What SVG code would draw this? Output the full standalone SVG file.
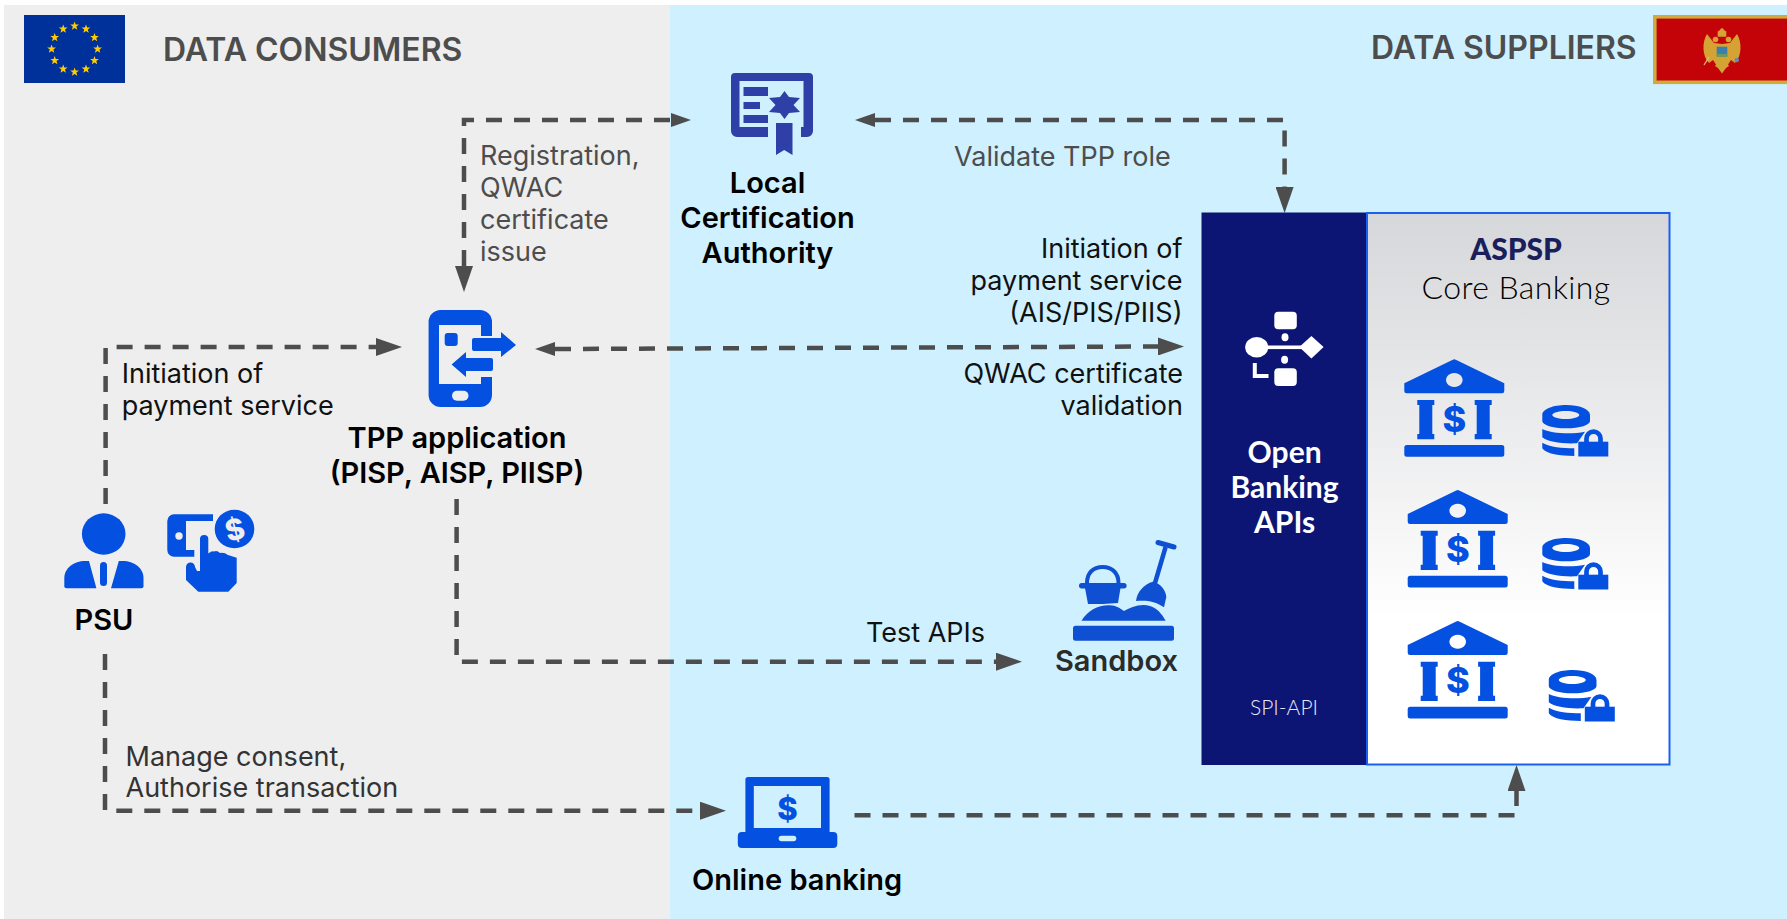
<svg xmlns="http://www.w3.org/2000/svg" width="1787" height="919" viewBox="0 0 1787 919">
<style>
text{font-family:"Inter","Noto Sans","Liberation Sans",sans-serif}
.title{font-size:32px;font-weight:600;fill:#4d4d4d}
.lab{font-size:27px;font-weight:400;fill:#111}
.gr{fill:#4d4d4d}
.node{font-size:29px;font-weight:600;fill:#000}
.mid{text-anchor:middle}
.end{text-anchor:end}
.conn{fill:none;stroke:#4d4d4d;stroke-width:4.5;stroke-dasharray:16 12}
.ic{fill:#0450e0}
.usd{font-weight:800;fill:#0450e0;text-anchor:middle}
.gothic{font-family:"Lato","Open Sans",sans-serif}
</style>
<defs>
<marker id="lg" markerUnits="userSpaceOnUse" markerWidth="26" markerHeight="18" viewBox="0 0 26 18" refX="0" refY="9" orient="auto-start-reverse"><path d="M0 0L26 9L0 18Z" fill="#4d4d4d"/></marker>
<marker id="sm" markerUnits="userSpaceOnUse" markerWidth="20" markerHeight="14" viewBox="0 0 20 14" refX="0" refY="7" orient="auto-start-reverse"><path d="M0 0L20 7L0 14Z" fill="#4d4d4d"/></marker>
<linearGradient id="core" x1="0" y1="0" x2="0" y2="1"><stop offset="0" stop-color="#d6d7da"/><stop offset=".74" stop-color="#fff"/></linearGradient>
<polygon id="st" points="0,-4.6 1.1,-1.5 4.4,-1.4 1.8,.6 2.7,3.7 0,1.9 -2.7,3.7 -1.8,.6 -4.4,-1.4 -1.1,-1.5" fill="#ffcc00"/>
<g id="bank" class="ic">
<path d="M1452.800 359.800Q1454.300 358.900 1455.800 359.800L1504.300 383.300V391a2.300 2.300 0 0 1-2.300 2.300H1406.600a2.300 2.300 0 0 1-2.300-2.300V383.300ZM1454.300 373a8.300 7 0 1 0 .01 0Z" fill-rule="evenodd"/>
<path d="M1417.300 400H1434.300V405H1432.300V434H1434.300V439.300H1417.300V434H1419.300V405H1417.300Z"/>
<path d="M1474.700 400H1491.700V405H1489.700V434H1491.700V439.300H1474.700V434H1476.700V405H1474.700Z"/>
<rect x="1404.300" y="445" width="100" height="11.700" rx="2.500"/>
</g>
<g id="dblock" class="ic">
<path d="M1566.200 405C1579.200 405 1590 409 1590 415V421C1590 425 1580 428.300 1566.200 428.300C1552.400 428.300 1542.300 425 1542.300 421V415C1542.300 409 1553.200 405 1566.200 405ZM1565.800 411C1558.300 411 1552.300 412.800 1552.300 415C1552.300 417.200 1558.300 419 1565.800 419C1573.300 419 1579.300 417.200 1579.300 415C1579.300 412.800 1573.300 411 1565.800 411Z" fill-rule="evenodd"/>
<path d="M1542.300 429C1550 433 1570 435 1585 431.700L1577 443.300C1562 444 1548 442 1542.300 437.300Z"/>
<path d="M1542.300 442.700C1550 447 1562 448.300 1574.300 448.300V456C1560 456 1546 454 1542.300 448.300Z"/>
<rect x="1578.300" y="441.700" width="30" height="14.800"/>
<path d="M1586.500 442V438.600A7 7 0 0 1 1600.500 438.600V442" fill="none" stroke="#0450e0" stroke-width="4.700"/>
</g>
</defs>
<rect x="0" y="0" width="1787" height="919" fill="#fff"/>
<rect id="zone-consumers" x="4" y="5" width="666" height="914" fill="#eeeeee"/>
<rect id="zone-suppliers" x="670" y="5" width="1117" height="914" fill="#cef0ff"/>

<g id="connectors">
<path class="conn" d="M464 266V120H671" marker-start="url(#lg)" marker-end="url(#sm)"/>
<path class="conn" d="M875 120H1284.600V187" marker-start="url(#sm)" marker-end="url(#lg)"/>
<path class="conn" d="M555 349L1158 346.500" marker-start="url(#sm)" marker-end="url(#lg)"/>
<path class="conn" d="M105.600 504V347H376" marker-end="url(#lg)"/>
<path class="conn" d="M456.600 499V661.700H996" marker-end="url(#lg)"/>
<path class="conn" d="M105 654V810.700H700" marker-end="url(#lg)"/>
<path class="conn" d="M854.500 815.300H1516.500"/>
<path d="M1516.500 806V791" fill="none" stroke="#4d4d4d" stroke-width="4.500" marker-end="url(#lg)"/>
</g>

<g id="header-consumers">
<rect x="24" y="15" width="101" height="68" fill="#00309a"/>
<g id="eu-stars">
<use href="#st" x="74.600" y="26"/><use href="#st" x="86" y="29"/><use href="#st" x="94.500" y="37.500"/><use href="#st" x="97.600" y="49"/><use href="#st" x="94.500" y="60.500"/><use href="#st" x="86" y="69"/><use href="#st" x="74.600" y="72"/><use href="#st" x="63.200" y="69"/><use href="#st" x="54.700" y="60.500"/><use href="#st" x="51.600" y="49"/><use href="#st" x="54.700" y="37.500"/><use href="#st" x="63.200" y="29"/>
</g>
<text class="title" x="163" y="61">DATA CONSUMERS</text>
</g>

<g id="header-suppliers">
<text class="title" x="1371" y="59">DATA SUPPLIERS</text>
<rect x="1654.800" y="16.800" width="134" height="65.500" fill="#c40308" stroke="#d1a93d" stroke-width="3.600"/>
<g id="me-eagle" fill="#d4a334">
<path id="wing-l" d="M1714 43L1707 34C1702 42 1702 56 1709 63L1713 60L1717 66L1722 58V44Z"/>
<path id="wing-r" d="M1730 43L1737 34C1742 42 1742 56 1735 63L1731 60L1727 66L1722 58V44Z"/>
<path d="M1722 55L1715 66L1718 68L1722 73.500L1726 68L1729 66Z"/>
<circle cx="1715.500" cy="39.500" r="2.800"/><circle cx="1728.500" cy="39.500" r="2.800"/>
<path d="M1717.700 36.800L1717.700 31C1719 32 1720 29 1722 28C1724 29 1725 32 1726.300 31V36.800Z"/>
<rect x="1716.700" y="46.700" width="10.600" height="9.500" fill="#3b7fae"/>
<rect x="1716.700" y="54" width="10.600" height="3" fill="#6f9a58"/>
<path d="M1709 57L1704 65" fill="none" stroke="#e3c879" stroke-width="1.200"/>
<circle cx="1736.700" cy="60" r="2.300" fill="#5f8cb0"/>
</g>
</g>

<g id="node-ca">
<path d="M735 73H809a4 4 0 0 1 4 4V131a6 6 0 0 1-6 6H801V127H803.500V81H739.500V127H768V137H737a6 6 0 0 1-6-6V77a4 4 0 0 1 4-4Z" fill="#2f3fa8"/>
<path d="M743.500 87H768V96H743.500ZM743.500 102H760V109H743.500ZM743.500 115H768V123H743.500Z" fill="#2f3fa8"/>
<path d="M784.500 91L789 97L800 98L793.500 105L800 112L789 113L784.500 119L780 113L769 112L775.500 105L769 98L780 97Z" fill="#2f3fa8"/>
<path d="M776 123H792.500V155L784.200 150L776 155Z" fill="#2f3fa8"/>
<text class="node mid"><tspan x="767.500" y="193">Local</tspan><tspan x="767.500" y="228">Certification</tspan><tspan x="767.500" y="263">Authority</tspan></text>
</g>

<g id="node-tpp">
<rect x="428.600" y="310" width="63.400" height="97" rx="12" class="ic"/>
<rect x="439" y="325" width="42" height="59" fill="#eee"/>
<rect x="481" y="336" width="13" height="41" fill="#eee"/>
<rect x="444.700" y="333" width="13" height="13" rx="3" class="ic"/>
<rect x="452" y="390.700" width="16.500" height="10" rx="5" fill="#eee"/>
<path d="M474 338H501V332L516 345L501 357V351H474a2 2 0 0 1-2-2V340a2 2 0 0 1 2-2Z" class="ic"/>
<path d="M491 358H466V352L451.600 364.500L466 377V371H491a2 2 0 0 0 2-2V360a2 2 0 0 0-2-2Z" class="ic"/>
<text class="node mid"><tspan x="457" y="448">TPP application</tspan><tspan x="457" y="483">(PISP, AISP, PIISP)</tspan></text>
</g>

<g id="node-psu">
<ellipse cx="103.700" cy="534" rx="21.800" ry="20.700" class="ic"/>
<path d="M85 561H89L96.400 588.300H66.300a2 2 0 0 1-2-2V578C64.300 568 74 561 85 561Z" class="ic"/>
<path d="M122.800 561H118.800L111 588.300H141.500a2 2 0 0 0 2-2V578C143.500 568 134 561 122.800 561Z" class="ic"/>
<rect x="100" y="562" width="7" height="24" rx="3.500" class="ic"/>
<text class="node mid" x="104" y="630">PSU</text>
</g>

<g id="node-pay">
<path d="M174 514.300H213V521H186V550H194.300V556.700H174a6.700 6.700 0 0 1-6.700-6.700V521a6.700 6.700 0 0 1 6.700-6.700Z" class="ic"/>
<circle cx="179" cy="536" r="3.700" fill="#eee"/>
<ellipse cx="234.500" cy="529" rx="21" ry="21" fill="#eee"/>
<ellipse cx="234.500" cy="529" rx="19.800" ry="19.300" class="ic"/>
<text class="usd" x="0" y="0" font-size="29" style="fill:#eee" transform="translate(237.500 539.500) rotate(-15)">$</text>
<path d="M200 539a4.150 4 0 0 1 8.300 0V553.500Q212 550.500 214 551.500Q217 550 220 553Q224 552 228 555L236.700 557.700V583L228.300 591.700H198.300L186 580V567a4.500 4.500 0 0 1 9 0L197 571H200Z" class="ic"/>
</g>

<g id="node-online">
<path d="M748 777H827a2.600 2.600 0 0 1 2.600 2.600V832H745.400V779.600a2.600 2.600 0 0 1 2.600-2.600ZM753.800 786V828H821V786Z" fill-rule="evenodd" class="ic"/>
<rect x="737.800" y="832" width="99.500" height="16" rx="4" class="ic"/>
<rect x="778.700" y="835.700" width="17.600" height="5.500" rx="2.700" fill="#cef0ff"/>
<text class="usd" x="787.500" y="820" font-size="31">$</text>
<text class="node" x="692" y="890">Online banking</text>
</g>

<g id="node-sandbox" fill="#0f50d2">
<rect x="1073" y="625.700" width="101" height="15" rx="2.500"/>
<path d="M1081.500 620.700C1088 610 1100 604 1112 605.500C1118 606 1122 610 1124 611C1130 608 1140 603 1150 606C1157 608 1162 614 1165.600 620.700Z"/>
<path d="M1085 588H1120.500L1118 603C1108 604 1098 604 1088 604Z"/>
<rect x="1079" y="583" width="47.600" height="5.500" rx="2.700"/>
<path d="M1087 583C1087 573 1093 567 1102.800 567C1112 567 1118.500 573 1118.500 583" fill="none" stroke="#0f50d2" stroke-width="4"/>
<path d="M1165.600 547L1155 583" fill="none" stroke="#0f50d2" stroke-width="4.500"/>
<path d="M1158 542.500L1174 547" fill="none" stroke="#0f50d2" stroke-width="5" stroke-linecap="round"/>
<path d="M1153 581.700C1160 583 1166 590 1166.300 597L1164 607.300C1155 601 1146 600 1136 601C1137 592 1144 584 1153 581.700Z"/>
<text class="node" x="1055" y="671" style="fill:#2b2b2b">Sandbox</text>
</g>

<g id="node-openbanking">
<rect x="1201.500" y="212.500" width="165.500" height="552.500" fill="#0c1573"/>
<g fill="#fff">
<rect x="1274.300" y="311.700" width="22.500" height="17.600" rx="4"/>
<ellipse cx="1285" cy="337.300" rx="3.500" ry="4"/>
<ellipse cx="1256.700" cy="347.300" rx="11.500" ry="10.300"/>
<rect x="1256" y="345.500" width="50" height="3.600"/>
<path d="M1311.400 336L1323.600 347L1311.400 358.500L1299.300 347Z"/>
<ellipse cx="1284.600" cy="359.700" rx="3.500" ry="4"/>
<rect x="1274.300" y="368.300" width="22.500" height="17.700" rx="4"/>
</g>
<path d="M1254.800 363V376H1268.500" fill="none" stroke="#fff" stroke-width="4"/>
<text class="gothic mid" font-size="30" font-weight="700" fill="#fff"><tspan x="1284.600" y="463">Open</tspan><tspan x="1284.600" y="498">Banking</tspan><tspan x="1284.600" y="533">APIs</tspan></text>
<text class="gothic mid" x="1284" y="715" font-size="21" font-weight="300" fill="#e6e9f5">SPI-API</text>
</g>

<g id="node-aspsp">
<rect x="1367" y="213" width="302.500" height="551.500" fill="url(#core)" stroke="#1a5fef" stroke-width="2"/>
<text class="gothic mid" x="1516" y="260" font-size="30" font-weight="900" fill="#1a1f5c">ASPSP</text>
<text class="gothic mid" x="1516" y="298.500" font-size="32" font-weight="300" letter-spacing=".4" fill="#000">Core Banking</text>
<use href="#bank"/><text class="usd" x="1454.500" y="431.600" font-size="36">$</text>
<use href="#dblock"/>
<use href="#bank" x="3.400" y="130.700"/><text class="usd" x="1457.900" y="562.300" font-size="36">$</text>
<use href="#dblock" y="133"/>
<use href="#bank" x="3.400" y="261.700"/><text class="usd" x="1457.900" y="693.300" font-size="36">$</text>
<use href="#dblock" x="6.500" y="265"/>
</g>

<g id="labels">
<text class="lab gr"><tspan x="480" y="165">Registration,</tspan><tspan x="480" y="197">QWAC</tspan><tspan x="480" y="229">certificate</tspan><tspan x="480" y="261">issue</tspan></text>
<text class="lab gr" x="954" y="166">Validate TPP role</text>
<text class="lab"><tspan x="121.700" y="383">Initiation of</tspan><tspan x="121.700" y="415">payment service</tspan></text>
<text class="lab end"><tspan x="1182.500" y="258">Initiation of</tspan><tspan x="1182.500" y="290">payment service</tspan><tspan x="1182.500" y="322">(AIS/PIS/PIIS)</tspan></text>
<text class="lab end"><tspan x="1183" y="383">QWAC certificate</tspan><tspan x="1183" y="415">validation</tspan></text>
<text class="lab" x="866" y="642">Test APIs</text>
<text class="lab" style="fill:#333"><tspan x="125.500" y="766">Manage consent,</tspan><tspan x="125.500" y="797">Authorise transaction</tspan></text>
</g>
</svg>
